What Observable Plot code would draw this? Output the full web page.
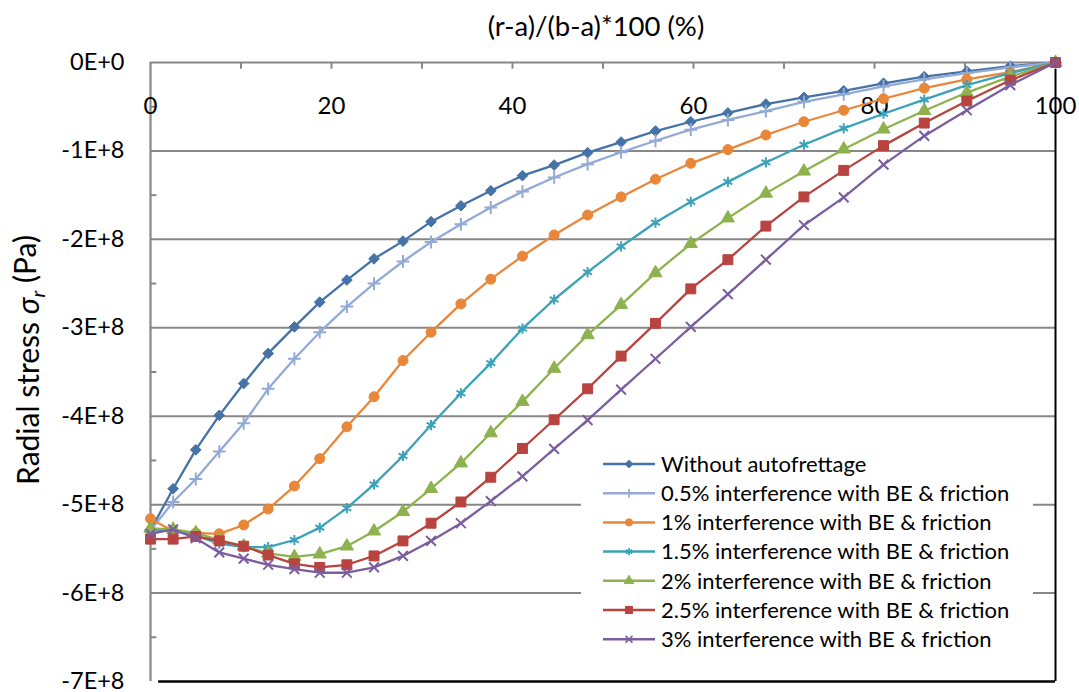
<!DOCTYPE html>
<html>
<head>
<meta charset="utf-8">
<script src="https://cdn.jsdelivr.net/npm/d3@7"></script>
<script src="https://cdn.jsdelivr.net/npm/@observablehq/plot@0.6"></script>
<style>
html, body { margin: 0; padding: 0; background: #fff; }
#chart { width: 1079px; height: 692px; }
</style>
</head>
<body>
<div id="chart"></div>
<script>
// ---- data (stress in units of 1E+8 Pa) ----
const xValues = [0, 2.5, 5.0, 7.6, 10.3, 13.0, 15.9, 18.7, 21.7, 24.7, 27.9, 31.0, 34.3, 37.6, 41.1, 44.6, 48.3, 52.0, 55.8, 59.7, 63.8, 68.0, 72.2, 76.6, 81.0, 85.5, 90.2, 95.0, 100];
const seriesNames = [
  "Without autofrettage",
  "0.5% interference with BE & friction",
  "1% interference with BE & friction",
  "1.5% interference with BE & friction",
  "2% interference with BE & friction",
  "2.5% interference with BE & friction",
  "3% interference with BE & friction"
];
const withoutAuto = [-5.29,-4.82,-4.38,-3.99,-3.63,-3.29,-2.99,-2.71,-2.46,-2.22,-2.02,-1.80,-1.62,-1.45,-1.28,-1.16,-1.02,-0.90,-0.775,-0.67,-0.57,-0.47,-0.395,-0.32,-0.235,-0.16,-0.10,-0.04,0];
const interf05 = [-5.29,-4.97,-4.71,-4.40,-4.08,-3.69,-3.35,-3.05,-2.76,-2.50,-2.25,-2.03,-1.83,-1.64,-1.46,-1.30,-1.15,-1.015,-0.885,-0.76,-0.65,-0.55,-0.445,-0.36,-0.27,-0.19,-0.12,-0.055,0];
const interf10 = [-5.16,-5.30,-5.32,-5.33,-5.23,-5.05,-4.79,-4.48,-4.12,-3.78,-3.37,-3.05,-2.73,-2.45,-2.19,-1.95,-1.725,-1.52,-1.32,-1.14,-0.985,-0.82,-0.67,-0.54,-0.41,-0.29,-0.19,-0.11,0];
const interf15 = [-5.30,-5.28,-5.35,-5.44,-5.48,-5.48,-5.40,-5.26,-5.04,-4.77,-4.45,-4.10,-3.74,-3.40,-3.01,-2.68,-2.37,-2.08,-1.81,-1.575,-1.35,-1.13,-0.93,-0.745,-0.58,-0.42,-0.255,-0.12,0];
const interf20 = [-5.27,-5.28,-5.32,-5.40,-5.47,-5.55,-5.59,-5.56,-5.47,-5.30,-5.08,-4.82,-4.53,-4.19,-3.835,-3.46,-3.08,-2.74,-2.38,-2.05,-1.76,-1.48,-1.23,-0.98,-0.755,-0.545,-0.34,-0.16,0];
const interf25 = [-5.39,-5.39,-5.36,-5.41,-5.47,-5.57,-5.67,-5.71,-5.68,-5.58,-5.41,-5.21,-4.97,-4.69,-4.365,-4.04,-3.69,-3.32,-2.95,-2.56,-2.23,-1.85,-1.52,-1.22,-0.94,-0.685,-0.435,-0.20,0];
const interf30 = [-5.33,-5.28,-5.38,-5.54,-5.61,-5.68,-5.73,-5.77,-5.77,-5.71,-5.58,-5.41,-5.21,-4.96,-4.68,-4.37,-4.045,-3.70,-3.35,-2.99,-2.62,-2.23,-1.84,-1.525,-1.155,-0.83,-0.54,-0.255,0];

const xTicks = [0, 20, 40, 60, 80, 100];
const xMinorTicks = [10, 20, 30, 40, 50, 60, 70, 80, 90];
const yTicks = [0, -1e8, -2e8, -3e8, -4e8, -5e8, -6e8, -7e8];
const yTickLabels = ["0E+0", "-1E+8", "-2E+8", "-3E+8", "-4E+8", "-5E+8", "-6E+8", "-7E+8"];
const yGrid = [-1e8, -2e8, -3e8, -4e8, -5e8, -6e8];
const yMinorTicks = [-0.5e8, -1.5e8, -2.5e8, -3.5e8, -4.5e8, -5.5e8, -6.5e8];

const seriesValues = [withoutAuto, interf05, interf10, interf15, interf20, interf25, interf30];
const colors = ["#4572A7", "#93AAD6", "#E8873A", "#3BA2B9", "#8DB24E", "#B8433F", "#7B5EA0"];
const symbols = ["diamond2", "plus", "circle", "asterisk", "triangle", "square", "times"];
const filled = [true, false, true, false, true, true, false];
const radii = [4.8, 4.2, 5, 4.8, 4.9, 5.6, 4.5];
const d3Symbols = [d3.symbolDiamond2, d3.symbolPlus, d3.symbolCircle, d3.symbolAsterisk, d3.symbolTriangle, d3.symbolSquare, d3.symbolTimes];

const tables = seriesValues.map((vals, i) =>
  vals.map((v, j) => ({series: seriesNames[i], x: xValues[j], y: v * 1e8}))
);

const gray = "#878787";
const font = "Lato, 'Open Sans', sans-serif";

const marks = [
  Plot.ruleY(yGrid, {stroke: gray, strokeWidth: 2}),
  Plot.ruleY([0], {stroke: gray, strokeWidth: 2.2}),
  Plot.ruleX([0], {stroke: gray, strokeWidth: 2.2}),
  Plot.ruleX(xMinorTicks, {x: d => d, y1: 0, y2: -0.075e8, stroke: gray, strokeWidth: 2}),
  Plot.ruleY(yMinorTicks, {y: d => d, x1: 0, x2: 0.7, stroke: gray, strokeWidth: 2}),
  Plot.ruleX([100], {y1: -0.08e8, y2: -7e8, stroke: "#000", strokeWidth: 2}),
  Plot.ruleY([-7e8], {x1: 0.9, x2: 100, stroke: "#000", strokeWidth: 2.4}),
  Plot.axisY(yTicks, {tickSize: 0, tickPadding: 26, tickFormat: (d) => yTickLabels[yTicks.indexOf(d)], fontSize: 23.5, label: null}),
  Plot.text(xTicks, {x: d => d, frameAnchor: "top", dy: 34, text: d => String(d), fontSize: 24, fill: "#000"})
];

tables.forEach((rows, i) => {
  marks.push(Plot.line(rows, {x: "x", y: "y", stroke: colors[i], strokeWidth: 2.3}));
  marks.push(Plot.dot(rows, {
    x: "x", y: "y", symbol: symbols[i], r: radii[i],
    fill: filled[i] ? colors[i] : "none",
    stroke: colors[i],
    strokeWidth: filled[i] ? 1 : 2
  }));
});

const plot = Plot.plot({
  width: 1079,
  height: 692,
  marginLeft: 150,
  marginRight: 24,
  marginTop: 62,
  marginBottom: 11,
  x: {domain: [0, 100], axis: null},
  y: {domain: [-7e8, 0], axis: null},
  style: {fontFamily: font, fontSize: "22px", background: "#fff", color: "#000", overflow: "visible"},
  marks
});

document.getElementById("chart").appendChild(plot);

// ---- titles and legend added to the same SVG ----
const svg = d3.select(plot);
svg.append("text")
  .attr("x", 596).attr("y", 26).attr("dy", "0.35em")
  .attr("text-anchor", "middle")
  .attr("font-family", font).attr("font-size", 27.5).attr("fill", "#000")
  .text("(r-a)/(b-a)*100 (%)");

const yl = svg.append("text")
  .attr("transform", "translate(28,360) rotate(-90)")
  .attr("text-anchor", "middle").attr("dy", "0.35em")
  .attr("font-family", font).attr("font-size", 30).attr("fill", "#000");
yl.append("tspan").text("Radial stress ");
yl.append("tspan").attr("font-style", "italic").text("σ");
yl.append("tspan").attr("font-style", "italic").attr("font-size", 20).attr("dy", "0.3em").text("r");
yl.append("tspan").attr("dy", "-0.3em").text(" (Pa)");

const lg = svg.append("g").attr("transform", "translate(581,447)");
lg.append("rect").attr("width", 452).attr("height", 208).attr("fill", "#fff");
seriesNames.forEach((name, i) => {
  const row = lg.append("g").attr("transform", `translate(0,${17 + i * 29.2})`);
  row.append("line").attr("x1", 22).attr("x2", 74).attr("y1", 0).attr("y2", 0)
    .attr("stroke", colors[i]).attr("stroke-width", 2.5);
  row.append("path")
    .attr("d", d3.symbol(d3Symbols[i], Math.PI * Math.pow(radii[i] * 0.72, 2))())
    .attr("transform", "translate(48,0)")
    .attr("fill", filled[i] ? colors[i] : "none")
    .attr("stroke", colors[i]).attr("stroke-width", filled[i] ? 1 : 1.7);
  row.append("text").attr("x", 80).attr("dy", "0.35em")
    .attr("text-anchor", "start")
    .attr("font-family", font).attr("font-size", 22).attr("fill", "#000")
    .text(name);
});
</script>
</body>
</html>
